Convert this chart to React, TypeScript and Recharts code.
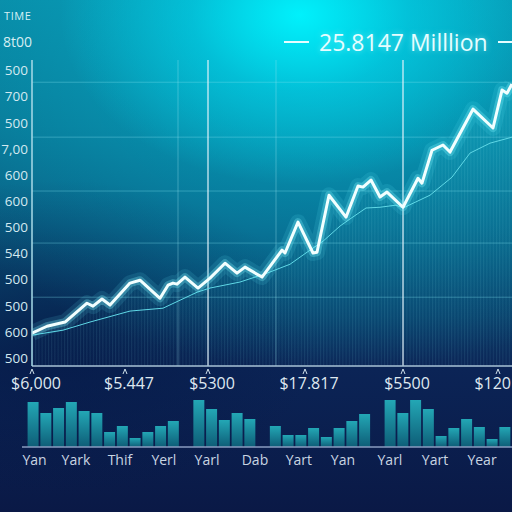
import React from 'react';
import {
  Area,
  Bar,
  BarChart,
  ComposedChart,
  Line,
  ReferenceLine,
  XAxis,
  YAxis,
} from 'recharts';

// price trace (day, level)
const priceDays = [
  0, 3.75, 8.25, 13.75, 15.25, 17.5, 19.5, 24.5, 27, 32, 34, 35.25, 36.25, 38.25, 41.5,
  44.5, 48.25, 51.25, 53.25, 57.5, 62.5, 63.25, 66.5, 70.25, 71.25, 74.25, 78.5, 81.5,
  82.75, 84.75, 87, 88.75, 92.75, 96.5, 97.5, 100, 102.75, 104.5, 110.25, 115.25, 117.5,
  118.75, 120,
];
const priceLevels = [
  0.96, 1.22, 1.38, 2.1, 1.99, 2.26, 2.03, 2.87, 2.98, 2.29, 2.79, 2.87, 2.83, 3.1, 2.68,
  3.06, 3.63, 3.25, 3.48, 3.1, 4.13, 4.02, 5.2, 4.02, 4.05, 6.23, 5.39, 6.58, 6.54, 6.81,
  6.16, 6.35, 5.77, 6.88, 6.69, 7.95, 8.15, 7.88, 9.52, 8.8, 10.25, 10.13, 10.48,
];

// moving average trace
const avgDays = [
  0, 7.75, 14.5, 24.5, 32.75, 41.25, 44.5, 52, 58.75, 64.5, 69.5, 72.75, 77, 79.5, 83.5,
  87, 91, 92.75, 99.5, 105, 109.5, 114.5, 120,
];
const avgLevels = [
  0.88, 1.07, 1.38, 1.8, 1.91, 2.52, 2.68, 2.91, 3.25, 3.59, 4.13, 4.47, 5.05, 5.32, 5.74,
  5.77, 5.85, 5.74, 6.23, 6.92, 7.84, 8.22, 8.45,
];

const yTickLabels = ['500', '600', '500', '500', '540', '500', '600', '600', '7,00', '500', '700', '500'];
const yTicks = [0, 1, 2, 3, 4, 5, 6, 7, 8, 9, 10, 11];
const xTickDays = [0, 23.25, 44, 68.25, 92.75, 116.5];
const xTickLabels = ['$6,000', '$5.447', '$5300', '$17.817', '$5500', '$120'];
const gridLevels = [2.33, 4.4, 6.39, 8.45, 10.55];
const markerDays = [44, 92.75];
const faintDays = [36.5, 61];

// volume bars, one per slot (0 = empty slot)
const volumes = [
  45, 34, 39, 45, 36, 34, 15, 21, 9, 15, 21, 26, 0, 47, 38, 27, 34, 28, 0, 21, 12, 12, 19,
  10, 19, 26, 33, 0, 47, 34, 47, 38, 11, 19, 28, 20, 8, 20,
];
const barLabelSlots = [0.12, 3.37, 6.82, 10.27, 13.65, 17.41, 20.86, 24.31, 28.0, 31.53, 35.22];
const barLabels = ['Yan', 'Yark', 'Thif', 'Yerl', 'Yarl', 'Dab', 'Yart', 'Yan', 'Yarl', 'Yart', 'Year'];

const FONT = '"Open Sans", "DejaVu Sans", sans-serif';

const priceData = priceDays.map((day, i) => ({ day, price: priceLevels[i] }));
const avgData = avgDays.map((day, i) => ({ day, avg: avgLevels[i] }));
const volumeData = volumes.map((volume, slot) => ({ slot, volume }));

function PriceTick(props: any) {
  const { x, y, index } = props;
  const last = index === xTickLabels.length - 1;
  return (
    <g>
      <path
        d={`M${x - 2},${y + 8} L${x},${y + 3} L${x + 2},${y + 8}`}
        stroke='#cfe0ea'
        strokeWidth={1}
        fill='none'
      />
      <text
        x={last ? 511 : x + 4}
        y={y + 23}
        textAnchor={last ? 'end' : 'middle'}
        fill='#dfe8f0'
        fontSize={16}
        fontFamily={FONT}
      >
        {xTickLabels[index]}
      </text>
    </g>
  );
}

export default function App() {
  return (
    <div
      style={{
        position: 'relative',
        width: 512,
        height: 512,
        overflow: 'hidden',
        fontFamily: FONT,
        background: [
          'radial-gradient(ellipse 240px 170px at 300px 15px, rgba(0,245,255,0.95), rgba(0,225,245,0.5) 45%, rgba(0,200,230,0) 100%)',
          'radial-gradient(ellipse 460px 320px at 330px 50px, rgba(0,200,225,0.55), rgba(0,160,200,0) 100%)',
          'radial-gradient(ellipse 260px 160px at 60px 340px, rgba(5,25,70,0.7), rgba(5,25,70,0) 100%)',
          'linear-gradient(180deg, #0a86a2 0%, #0a7392 25%, #0a5a80 45%, #0a3d68 62%, #0b2456 72%, #0a1946 100%)',
        ].join(','),
      }}
    >
      <style>{'body{margin:0}'}</style>

      <div style={{ position: 'absolute', left: 4, top: 8, fontSize: 11, color: '#d6f0f5', letterSpacing: 0.6 }}>
        TIME
      </div>
      <div style={{ position: 'absolute', left: 3, top: 32, fontSize: 14, color: '#d6eef3' }}>8t00</div>

      <div
        style={{
          position: 'absolute',
          left: 284,
          top: 26,
          display: 'flex',
          alignItems: 'center',
          gap: 10,
          color: '#e6fdff',
          fontSize: 23,
          whiteSpace: 'nowrap',
          textShadow: '0 0 6px rgba(170,255,255,0.6)',
        }}
      >
        <span style={{ width: 25, height: 1.5, background: '#e6fdff' }} />
        <span>25.8147 Milllion</span>
        <span style={{ width: 25, height: 1.5, background: '#e6fdff' }} />
      </div>

      <div style={{ position: 'absolute', left: 0, top: 0 }}>
        <ComposedChart
          width={512}
          height={400}
          data={priceData}
          margin={{ top: 60, right: 0, left: 0, bottom: 0 }}
        >
          <defs>
            <linearGradient id='areaFill' x1='0' y1='0' x2='0' y2='1'>
              <stop offset='0%' stopColor='#1fb8cc' stopOpacity={0.55} />
              <stop offset='60%' stopColor='#0d6f90' stopOpacity={0.35} />
              <stop offset='100%' stopColor='#0a2a5a' stopOpacity={0} />
            </linearGradient>
            <pattern id='stripes' width='3.2' height='10' patternUnits='userSpaceOnUse'>
              <rect width='1' height='10' fill='rgba(150,235,245,0.16)' />
            </pattern>
          </defs>

          <XAxis
            dataKey='day'
            type='number'
            domain={[0, 120]}
            allowDataOverflow
            ticks={xTickDays}
            interval={0}
            height={34}
            tickSize={0}
            tickMargin={0}
            tickLine={false}
            axisLine={{ stroke: '#a9c3d6', strokeWidth: 1.5 }}
            tick={<PriceTick />}
          />
          <YAxis
            type='number'
            domain={[-0.3, 11.4]}
            allowDataOverflow
            ticks={yTicks}
            interval={0}
            width={32}
            tickSize={0}
            tickMargin={4}
            tickLine={false}
            tickFormatter={(v: number) => yTickLabels[Math.round(v)]}
            tick={{ fill: '#d3e9f0', fontSize: 13.5, fontFamily: FONT }}
            axisLine={{ stroke: '#a8dbe8', strokeWidth: 1.5 }}
          />

          {gridLevels.map((lv) => (
            <ReferenceLine key={'g' + lv} y={lv} stroke='rgba(130,225,240,0.35)' strokeWidth={1} />
          ))}
          {faintDays.map((d) => (
            <ReferenceLine key={'f' + d} x={d} stroke='rgba(160,230,240,0.35)' strokeWidth={1} />
          ))}
          {markerDays.map((d) => (
            <ReferenceLine key={'m' + d} x={d} stroke='rgba(225,242,250,0.8)' strokeWidth={1.5} />
          ))}

          <Area
            dataKey='price'
            type='linear'
            baseValue='dataMin'
            fill='url(#areaFill)'
            stroke='none'
            isAnimationActive={false}
          />
          <Area
            dataKey='price'
            type='linear'
            baseValue='dataMin'
            fill='url(#stripes)'
            stroke='none'
            isAnimationActive={false}
          />

          <Line
            data={avgData}
            dataKey='avg'
            type='linear'
            stroke='#5fd8e6'
            strokeWidth={1}
            dot={false}
            isAnimationActive={false}
          />

          <Line
            dataKey='price'
            type='linear'
            stroke='#5ff2ff'
            strokeOpacity={0.12}
            strokeWidth={16}
            strokeLinejoin='round'
            dot={false}
            isAnimationActive={false}
          />
          <Line
            dataKey='price'
            type='linear'
            stroke='#7ff6ff'
            strokeOpacity={0.3}
            strokeWidth={8}
            strokeLinejoin='round'
            dot={false}
            isAnimationActive={false}
          />
          <Line
            dataKey='price'
            type='linear'
            stroke='#f2ffff'
            strokeWidth={3}
            strokeLinejoin='round'
            dot={false}
            isAnimationActive={false}
          />
        </ComposedChart>
      </div>

      <div style={{ position: 'absolute', left: 0, top: 390 }}>
        <BarChart
          width={512}
          height={100}
          data={volumeData}
          margin={{ top: 7, right: 0, left: 22, bottom: 0 }}
        >
          <defs>
            <linearGradient id='barFill' x1='0' y1='0' x2='0' y2='1'>
              <stop offset='0%' stopColor='#23a7b5' />
              <stop offset='100%' stopColor='#0e5d77' />
            </linearGradient>
          </defs>
          <XAxis
            dataKey='slot'
            type='number'
            domain={[-0.86, 37.57]}
            allowDataOverflow
            ticks={barLabelSlots}
            interval={0}
            height={43}
            tickLine={false}
            axisLine={{ stroke: '#8a9cc0', strokeWidth: 1.5 }}
            tickFormatter={(_v: number, i: number) => barLabels[i]}
            tick={{ fill: '#c9d5e2', fontSize: 14, fontFamily: FONT }}
          />
          <YAxis hide domain={[0, 50]} />
          <Bar dataKey='volume' barSize={11} fill='url(#barFill)' isAnimationActive={false} />
        </BarChart>
      </div>
    </div>
  );
}
